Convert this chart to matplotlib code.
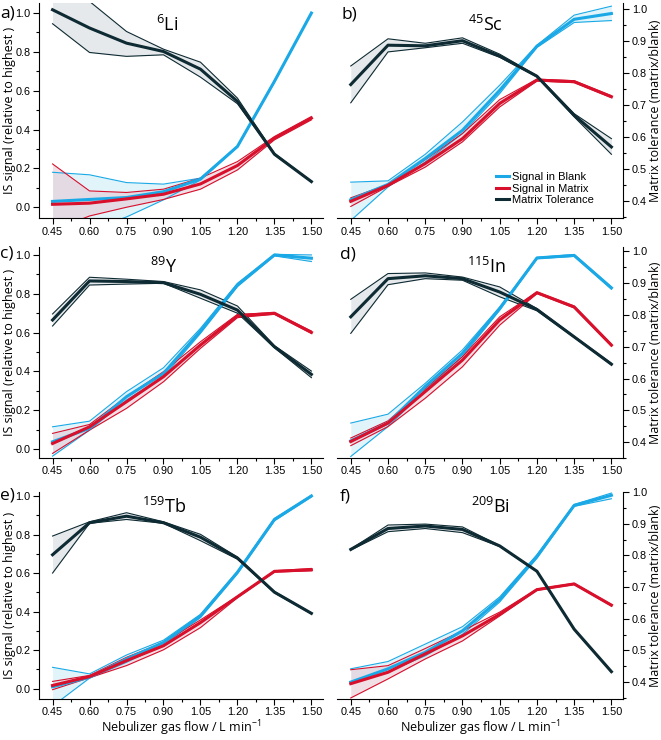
import matplotlib
matplotlib.use("Agg")
import matplotlib.pyplot as plt
from matplotlib.ticker import MultipleLocator, AutoMinorLocator

plt.rcParams["font.family"] = ["Open Sans", "DejaVu Sans"]
plt.rcParams["mathtext.fontset"] = "custom"
plt.rcParams["mathtext.rm"] = "Open Sans"
plt.rcParams["mathtext.it"] = "Open Sans"

flow = [0.45, 0.60, 0.75, 0.90, 1.05, 1.20, 1.35, 1.50]

# a) 6Li  (left axis units)
li_blank = [0.03, 0.04, 0.05, 0.08, 0.145, 0.313, 0.648, 1.0]
li_blank_hi = [0.18, 0.167, 0.127, 0.119, 0.15, 0.315, 0.652, 1.0]
li_blank_lo = [-0.14, -0.12, -0.05, 0.038, 0.14, 0.31, 0.645, 1.0]
li_matrix = [0.015, 0.021, 0.043, 0.067, 0.12, 0.215, 0.356, 0.459]
li_matrix_hi = [0.223, 0.084, 0.076, 0.093, 0.15, 0.235, 0.364, 0.467]
li_matrix_lo = [-0.12, -0.045, 0.0, 0.04, 0.093, 0.192, 0.347, 0.45]
li_tol = [1.017, 0.923, 0.845, 0.802, 0.711, 0.545, 0.273, 0.132]
li_tol_hi = [1.10, 1.06, 0.905, 0.814, 0.747, 0.562, 0.278, 0.134]
li_tol_lo = [0.945, 0.797, 0.777, 0.785, 0.670, 0.533, 0.270, 0.130]

# b) 45Sc  (right axis units)
sc_blank = [0.405, 0.453, 0.534, 0.622, 0.747, 0.885, 0.969, 0.987]
sc_blank_hi = [0.46, 0.464, 0.547, 0.648, 0.763, 0.888, 0.982, 1.01]
sc_blank_lo = [0.34, 0.445, 0.523, 0.612, 0.737, 0.881, 0.959, 0.965]
sc_matrix = [0.40, 0.45, 0.518, 0.596, 0.706, 0.779, 0.774, 0.727]
sc_matrix_hi = [0.411, 0.453, 0.530, 0.612, 0.718, 0.782, 0.777, 0.730]
sc_matrix_lo = [0.384, 0.447, 0.507, 0.586, 0.695, 0.776, 0.771, 0.724]
sc_tol = [0.765, 0.888, 0.886, 0.902, 0.854, 0.791, 0.669, 0.570]
sc_tol_hi = [0.823, 0.908, 0.894, 0.911, 0.860, 0.793, 0.674, 0.596]
sc_tol_lo = [0.708, 0.867, 0.880, 0.894, 0.850, 0.789, 0.664, 0.547]

# c) 89Y  (left axis units)
y_blank = [0.038, 0.107, 0.27, 0.39, 0.608, 0.845, 1.0, 0.983]
y_blank_hi = [0.115, 0.144, 0.296, 0.419, 0.622, 0.854, 1.003, 1.0]
y_blank_lo = [-0.036, 0.098, 0.253, 0.373, 0.596, 0.837, 0.995, 0.966]
y_matrix = [0.029, 0.115, 0.244, 0.373, 0.536, 0.686, 0.70, 0.601]
y_matrix_hi = [0.081, 0.127, 0.27, 0.399, 0.553, 0.694, 0.703, 0.608]
y_matrix_lo = [-0.022, 0.098, 0.21, 0.347, 0.519, 0.677, 0.694, 0.596]
y_tol = [0.665, 0.866, 0.863, 0.857, 0.797, 0.716, 0.527, 0.385]
y_tol_hi = [0.696, 0.885, 0.875, 0.863, 0.82, 0.737, 0.533, 0.402]
y_tol_lo = [0.634, 0.845, 0.85, 0.854, 0.777, 0.70, 0.522, 0.368]

# d) 115In  (right axis units)
in_blank = [0.404, 0.46, 0.575, 0.679, 0.82, 0.979, 0.987, 0.885]
in_blank_hi = [0.46, 0.488, 0.585, 0.69, 0.825, 0.981, 0.99, 0.888]
in_blank_lo = [0.355, 0.449, 0.564, 0.669, 0.815, 0.977, 0.984, 0.881]
in_matrix = [0.402, 0.46, 0.559, 0.658, 0.784, 0.87, 0.825, 0.705]
in_matrix_hi = [0.413, 0.467, 0.569, 0.669, 0.794, 0.872, 0.828, 0.708]
in_matrix_lo = [0.389, 0.449, 0.538, 0.637, 0.768, 0.867, 0.822, 0.702]
in_tol = [0.794, 0.914, 0.923, 0.914, 0.872, 0.817, 0.731, 0.645]
in_tol_hi = [0.849, 0.930, 0.932, 0.919, 0.888, 0.82, 0.733, 0.648]
in_tol_lo = [0.742, 0.895, 0.914, 0.909, 0.857, 0.813, 0.729, 0.643]

# e) 159Tb  (left axis units)
tb_blank = [0.01, 0.06, 0.154, 0.24, 0.377, 0.604, 0.878, 1.0]
tb_blank_hi = [0.111, 0.077, 0.175, 0.252, 0.386, 0.609, 0.883, 1.003]
tb_blank_lo = [-0.09, 0.055, 0.137, 0.228, 0.369, 0.597, 0.871, 0.995]
tb_matrix = [0.017, 0.063, 0.146, 0.223, 0.343, 0.477, 0.609, 0.617]
tb_matrix_hi = [0.038, 0.069, 0.163, 0.24, 0.357, 0.48, 0.612, 0.624]
tb_matrix_lo = [-0.005, 0.057, 0.12, 0.202, 0.317, 0.472, 0.605, 0.612]
tb_tol = [0.695, 0.861, 0.895, 0.861, 0.786, 0.678, 0.501, 0.391]
tb_tol_hi = [0.792, 0.866, 0.913, 0.866, 0.801, 0.683, 0.504, 0.394]
tb_tol_lo = [0.60, 0.858, 0.878, 0.858, 0.768, 0.672, 0.497, 0.388]

# f) 209Bi  (right axis units)
bi_blank = [0.40, 0.442, 0.494, 0.562, 0.661, 0.797, 0.958, 0.99]
bi_blank_hi = [0.442, 0.465, 0.52, 0.575, 0.669, 0.802, 0.961, 0.997]
bi_blank_lo = [0.395, 0.433, 0.483, 0.551, 0.653, 0.791, 0.955, 0.979]
bi_matrix = [0.395, 0.431, 0.489, 0.546, 0.614, 0.692, 0.71, 0.643]
bi_matrix_hi = [0.439, 0.452, 0.506, 0.562, 0.621, 0.694, 0.712, 0.645]
bi_matrix_lo = [0.35, 0.41, 0.473, 0.53, 0.609, 0.69, 0.708, 0.64]
bi_tol = [0.819, 0.885, 0.893, 0.882, 0.830, 0.75, 0.567, 0.433]
bi_tol_hi = [0.82, 0.896, 0.899, 0.890, 0.831, 0.751, 0.568, 0.434]
bi_tol_lo = [0.817, 0.875, 0.885, 0.872, 0.828, 0.749, 0.566, 0.431]

blue = "#1aa9e6"
red = "#d8102c"
dark = "#0e2a33"
tick_font = "Liberation Sans"


def band(ax, mid, hi, lo, color, fill, label):
    ax.fill_between(flow, lo, hi, color=fill, alpha=0.55, lw=0, zorder=1)
    ax.plot(flow, hi, color=color, lw=0.8, zorder=2)
    ax.plot(flow, lo, color=color, lw=0.8, zorder=2)
    ax.plot(flow, mid, color=color, lw=2.2, zorder=3, label=label)


def panel(rect, side, ylim, series, element, elpos):
    ax = fig.add_axes(rect)
    for mid, hi, lo, color, fill, label in series:
        band(ax, mid, hi, lo, color, fill, label)
    ax.set_xlim(0.395, 1.548)
    ax.set_ylim(*ylim)
    ax.set_xticks(flow)
    ax.xaxis.set_minor_locator(AutoMinorLocator(2))
    ax.spines["top"].set_visible(False)
    other = "right" if side == "left" else "left"
    ax.spines[other].set_visible(False)
    ax.yaxis.set_ticks_position(side)
    ax.yaxis.set_label_position(side)
    if side == "left":
        ax.yaxis.set_major_locator(MultipleLocator(0.2))
        ax.set_ylabel("IS signal (relative to highest )", fontsize=9)
        ax.yaxis.set_label_coords(-0.082, 0.5)
    else:
        ax.yaxis.set_major_locator(MultipleLocator(0.1))
        ax.set_ylabel("Matrix tolerance (matrix/blank)", fontsize=9)
        ax.yaxis.set_label_coords(1.088, 0.5)
    ax.yaxis.set_minor_locator(AutoMinorLocator(2))
    ax.tick_params(which="both", direction="out", labelsize=7.8, width=0.8, pad=2)
    ax.tick_params(which="major", length=4)
    ax.tick_params(which="minor", length=2)
    for lab in ax.get_xticklabels() + ax.get_yticklabels():
        lab.set_family(tick_font)
    ax.text(elpos[0], elpos[1], element, transform=ax.transAxes,
            fontsize=13, ha="center", va="center")
    return ax


def series_for(b, bh, bl, m, mh, ml, t, th, tl):
    return [
        (b, bh, bl, blue, "#c9ecf6", "Signal in Blank"),
        (m, mh, ml, red, "#e6c6d2", "Signal in Matrix"),
        (t, th, tl, dark, "#d2d8db", "Matrix Tolerance"),
    ]


fig = plt.figure(figsize=(6.61, 7.40), dpi=100)

ax_a = panel([0.059, 0.705, 0.430, 0.291], "left", (-0.057, 1.052),
             series_for(li_blank, li_blank_hi, li_blank_lo, li_matrix, li_matrix_hi,
                        li_matrix_lo, li_tol, li_tol_hi, li_tol_lo),
             r"$^{6}$Li", (0.45, 0.90))
ax_b = panel([0.510, 0.705, 0.433, 0.291], "right", (0.347, 1.02),
             series_for(sc_blank, sc_blank_hi, sc_blank_lo, sc_matrix, sc_matrix_hi,
                        sc_matrix_lo, sc_tol, sc_tol_hi, sc_tol_lo),
             r"$^{45}$Sc", (0.52, 0.90))
ax_c = panel([0.059, 0.381, 0.430, 0.285], "left", (-0.046, 1.04),
             series_for(y_blank, y_blank_hi, y_blank_lo, y_matrix, y_matrix_hi,
                        y_matrix_lo, y_tol, y_tol_hi, y_tol_lo),
             r"$^{89}$Y", (0.44, 0.905))
ax_d = panel([0.510, 0.381, 0.433, 0.285], "right", (0.35, 1.013),
             series_for(in_blank, in_blank_hi, in_blank_lo, in_matrix, in_matrix_hi,
                        in_matrix_lo, in_tol, in_tol_hi, in_tol_lo),
             r"$^{115}$In", (0.52, 0.905))
ax_e = panel([0.059, 0.056, 0.430, 0.279], "left", (-0.051, 1.02),
             series_for(tb_blank, tb_blank_hi, tb_blank_lo, tb_matrix, tb_matrix_hi,
                        tb_matrix_lo, tb_tol, tb_tol_hi, tb_tol_lo),
             r"$^{159}$Tb", (0.44, 0.93))
ax_f = panel([0.510, 0.056, 0.433, 0.279], "right", (0.348, 1.0),
             series_for(bi_blank, bi_blank_hi, bi_blank_lo, bi_matrix, bi_matrix_hi,
                        bi_matrix_lo, bi_tol, bi_tol_hi, bi_tol_lo),
             r"$^{209}$Bi", (0.535, 0.93))

for ax in (ax_e, ax_f):
    ax.set_xlabel("Nebulizer gas flow / L min$^{-1}$", fontsize=9, labelpad=1)

# legend in panel b
handles, labels = ax_b.get_legend_handles_labels()
ax_b.legend(handles, labels, loc="lower right", bbox_to_anchor=(0.92, 0.03),
            frameon=False, prop={"family": tick_font, "size": 8},
            handlelength=1.1, handletextpad=0.3, labelspacing=0.15,
            borderaxespad=0.2)

# panel letters
for letter, x, y in [("a)", 0.0, 0.982), ("b)", 0.517, 0.980),
                     ("c)", 0.0, 0.658), ("d)", 0.514, 0.656),
                     ("e)", 0.0, 0.330), ("f)", 0.514, 0.329)]:
    fig.text(x, y, letter, fontsize=12.5, ha="left", va="center")

fig.savefig("out.png", dpi=100)
